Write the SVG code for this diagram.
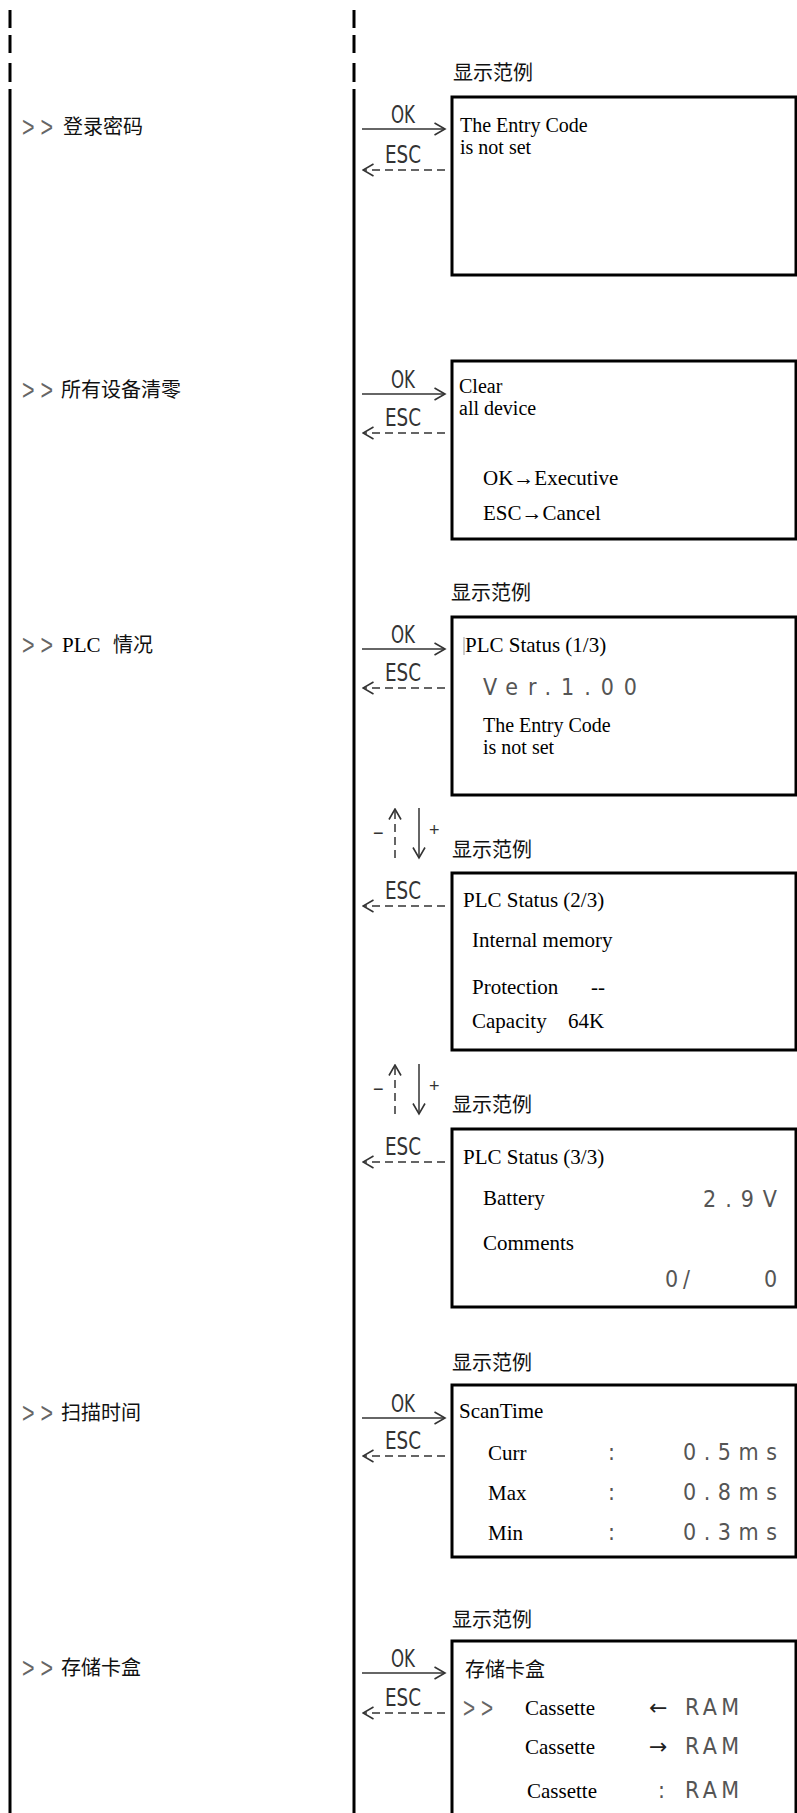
<svg xmlns="http://www.w3.org/2000/svg" width="797" height="1813" viewBox="0 0 797 1813">
<style>
.rail{stroke:#000;stroke-width:3;fill:none}
.box{stroke:#000;stroke-width:3;fill:#fff}
.cn{stroke:#333;stroke-width:1.5;fill:none}
.dash{stroke-dasharray:8 5}
.sdash{stroke-dasharray:8 5}
.t{font-family:"Liberation Serif","Times New Roman",serif;font-size:21px;fill:#000}
.t2{font-family:"Liberation Serif","Times New Roman",serif;font-size:20px;fill:#000}
.cjk{font-family:"Liberation Serif","Noto Sans CJK SC",sans-serif;font-size:20px;fill:#111}
.key{font-family:"DejaVu Sans Condensed","DejaVu Sans","Liberation Sans",sans-serif;font-stretch:condensed;font-size:24px;fill:#333}
.lcd{font-family:"DejaVu Sans Condensed","DejaVu Sans","Liberation Sans",sans-serif;font-stretch:condensed;font-size:23px;fill:#555}
.arr{font-family:"DejaVu Sans",sans-serif;font-size:22px;fill:#222}
.chev{font-family:"Liberation Sans",sans-serif;font-size:30px;fill:#666}
.sm{font-family:"Liberation Sans",sans-serif;font-size:18px;fill:#333}
</style>
<defs>
<marker id="head" markerUnits="userSpaceOnUse" markerWidth="13" markerHeight="14" viewBox="0 0 13 14" refX="11.5" refY="7" orient="auto">
<path d="M1,1 L11.5,7 L1,13" fill="none" stroke="#333" stroke-width="1.6" stroke-dasharray="none"/>
</marker>
</defs>
<rect width="797" height="1813" fill="#fff"/>

<g id="rails">
<path class="rail" d="M10,10V28M10,35V53M10,63V82M10,89V1813"/>
<path class="rail" d="M354,10V28M354,35V53M354,63V82M354,89V1813"/>
</g>

<g id="connectors">
<line class="cn" x1="362" y1="129" x2="445" y2="129" marker-end="url(#head)"/>
<line class="cn dash" x1="445" y1="170" x2="363" y2="170" marker-end="url(#head)"/>
<line class="cn" x1="362" y1="394" x2="445" y2="394" marker-end="url(#head)"/>
<line class="cn dash" x1="445" y1="433" x2="363" y2="433" marker-end="url(#head)"/>
<line class="cn" x1="362" y1="649" x2="445" y2="649" marker-end="url(#head)"/>
<line class="cn dash" x1="445" y1="688" x2="363" y2="688" marker-end="url(#head)"/>
<line class="cn dash" x1="445" y1="906" x2="363" y2="906" marker-end="url(#head)"/>
<line class="cn dash" x1="445" y1="1162" x2="363" y2="1162" marker-end="url(#head)"/>
<line class="cn" x1="362" y1="1418" x2="445" y2="1418" marker-end="url(#head)"/>
<line class="cn dash" x1="445" y1="1456" x2="363" y2="1456" marker-end="url(#head)"/>
<line class="cn" x1="362" y1="1673" x2="445" y2="1673" marker-end="url(#head)"/>
<line class="cn dash" x1="445" y1="1713" x2="363" y2="1713" marker-end="url(#head)"/>
<line class="cn sdash" x1="395" y1="858" x2="395" y2="809" marker-end="url(#head)"/>
<line class="cn" x1="419" y1="808" x2="419" y2="858" marker-end="url(#head)"/>
<line class="cn sdash" x1="395" y1="1114" x2="395" y2="1065" marker-end="url(#head)"/>
<line class="cn" x1="419" y1="1064" x2="419" y2="1114" marker-end="url(#head)"/>
<text class="key" x="391" y="123" textLength="24" lengthAdjust="spacingAndGlyphs">OK</text>
<text class="key" x="385" y="163" textLength="36" lengthAdjust="spacingAndGlyphs">ESC</text>
<text class="key" x="391" y="388" textLength="24" lengthAdjust="spacingAndGlyphs">OK</text>
<text class="key" x="385" y="426" textLength="36" lengthAdjust="spacingAndGlyphs">ESC</text>
<text class="key" x="391" y="643" textLength="24" lengthAdjust="spacingAndGlyphs">OK</text>
<text class="key" x="385" y="681" textLength="36" lengthAdjust="spacingAndGlyphs">ESC</text>
<text class="key" x="385" y="899" textLength="36" lengthAdjust="spacingAndGlyphs">ESC</text>
<text class="key" x="385" y="1155" textLength="36" lengthAdjust="spacingAndGlyphs">ESC</text>
<text class="key" x="391" y="1412" textLength="24" lengthAdjust="spacingAndGlyphs">OK</text>
<text class="key" x="385" y="1449" textLength="36" lengthAdjust="spacingAndGlyphs">ESC</text>
<text class="key" x="391" y="1667" textLength="24" lengthAdjust="spacingAndGlyphs">OK</text>
<text class="key" x="385" y="1706" textLength="36" lengthAdjust="spacingAndGlyphs">ESC</text>
<text class="sm" x="373" y="839">−</text>
<text class="sm" x="429" y="836">+</text>
<text class="sm" x="373" y="1095">−</text>
<text class="sm" x="429" y="1092">+</text>
</g>

<g id="menu-entry-code">
<text class="chev" x="22" y="137" textLength="31" lengthAdjust="spacingAndGlyphs">&gt; &gt;</text>
<text class="cjk" x="63" y="134">登录密码</text>
</g>
<g id="menu-clear">
<text class="chev" x="22" y="400" textLength="31" lengthAdjust="spacingAndGlyphs">&gt; &gt;</text>
<text class="cjk" x="61" y="397">所有设备清零</text>
</g>
<g id="menu-plc">
<text class="chev" x="22" y="655" textLength="31" lengthAdjust="spacingAndGlyphs">&gt; &gt;</text>
<text class="t" x="62" y="652">PLC</text>
<text class="cjk" x="113" y="652">情况</text>
</g>
<g id="menu-scan">
<text class="chev" x="22" y="1423" textLength="31" lengthAdjust="spacingAndGlyphs">&gt; &gt;</text>
<text class="cjk" x="61" y="1420">扫描时间</text>
</g>
<g id="menu-cassette">
<text class="chev" x="22" y="1678" textLength="31" lengthAdjust="spacingAndGlyphs">&gt; &gt;</text>
<text class="cjk" x="61" y="1675">存储卡盒</text>
</g>

<g id="screen-entry-code">
<text class="cjk" x="453" y="80">显示范例</text>
<rect class="box" x="452" y="97" width="344" height="178"/>
<text class="t2" x="460" y="132">The Entry Code</text>
<text class="t2" x="460" y="154">is not set</text>
</g>

<g id="screen-clear">
<rect class="box" x="452" y="361" width="344" height="178"/>
<text class="t2" x="459" y="393">Clear</text>
<text class="t2" x="459" y="415">all device</text>
<text class="t" x="483" y="485">OK→Executive</text>
<text class="t" x="483" y="520">ESC→Cancel</text>
</g>

<g id="screen-plc-1">
<text class="cjk" x="451" y="600">显示范例</text>
<rect class="box" x="452" y="617" width="344" height="178"/>
<line x1="464" y1="637" x2="464" y2="655" stroke="#999" stroke-width="1"/>
<text class="t" x="465" y="652">PLC Status (1/3)</text>
<text class="lcd" x="483" y="695" textLength="154" lengthAdjust="spacing">Ver.1.00</text>
<text class="t2" x="483" y="732">The Entry Code</text>
<text class="t2" x="483" y="754">is not set</text>
</g>

<g id="screen-plc-2">
<text class="cjk" x="452" y="857">显示范例</text>
<rect class="box" x="452" y="873" width="344" height="177"/>
<text class="t" x="463" y="907">PLC Status (2/3)</text>
<text class="t" x="472" y="947">Internal memory</text>
<text class="t" x="472" y="994">Protection</text>
<text class="t" x="591" y="994">--</text>
<text class="t" x="472" y="1028">Capacity</text>
<text class="t" x="568" y="1028">64K</text>
</g>

<g id="screen-plc-3">
<text class="cjk" x="452" y="1112">显示范例</text>
<rect class="box" x="452" y="1129" width="344" height="178"/>
<text class="t" x="463" y="1164">PLC Status (3/3)</text>
<text class="t" x="483" y="1205">Battery</text>
<text class="lcd" x="703" y="1207" textLength="74" lengthAdjust="spacing">2.9V</text>
<text class="t" x="483" y="1250">Comments</text>
<text class="lcd" x="665" y="1287" textLength="25" lengthAdjust="spacing">0/</text>
<text class="lcd" x="764" y="1287">0</text>
</g>

<g id="screen-scan">
<text class="cjk" x="452" y="1370">显示范例</text>
<rect class="box" x="452" y="1385" width="344" height="172"/>
<text class="t" x="459" y="1418">ScanTime</text>
<text class="t" x="488" y="1460">Curr</text>
<text class="lcd" x="608" y="1460">:</text>
<text class="lcd" x="683" y="1460" textLength="94" lengthAdjust="spacing">0.5ms</text>
<text class="t" x="488" y="1500">Max</text>
<text class="lcd" x="608" y="1500">:</text>
<text class="lcd" x="683" y="1500" textLength="94" lengthAdjust="spacing">0.8ms</text>
<text class="t" x="488" y="1540">Min</text>
<text class="lcd" x="608" y="1540">:</text>
<text class="lcd" x="683" y="1540" textLength="94" lengthAdjust="spacing">0.3ms</text>
</g>

<g id="screen-cassette">
<text class="cjk" x="452" y="1627">显示范例</text>
<path class="box" d="M452,1813V1641H796V1813"/>
<text class="cjk" x="465" y="1677">存储卡盒</text>
<text class="chev" x="463" y="1718" textLength="30" lengthAdjust="spacingAndGlyphs">&gt; &gt;</text>
<text class="t" x="525" y="1715">Cassette</text>
<text class="arr" x="649" y="1715">←</text>
<text class="lcd" x="685" y="1715" textLength="54" lengthAdjust="spacing">RAM</text>
<text class="t" x="525" y="1754">Cassette</text>
<text class="arr" x="649" y="1754">→</text>
<text class="lcd" x="685" y="1754" textLength="54" lengthAdjust="spacing">RAM</text>
<text class="t" x="527" y="1798">Cassette</text>
<text class="lcd" x="658" y="1798">:</text>
<text class="lcd" x="685" y="1798" textLength="54" lengthAdjust="spacing">RAM</text>
</g>
</svg>
